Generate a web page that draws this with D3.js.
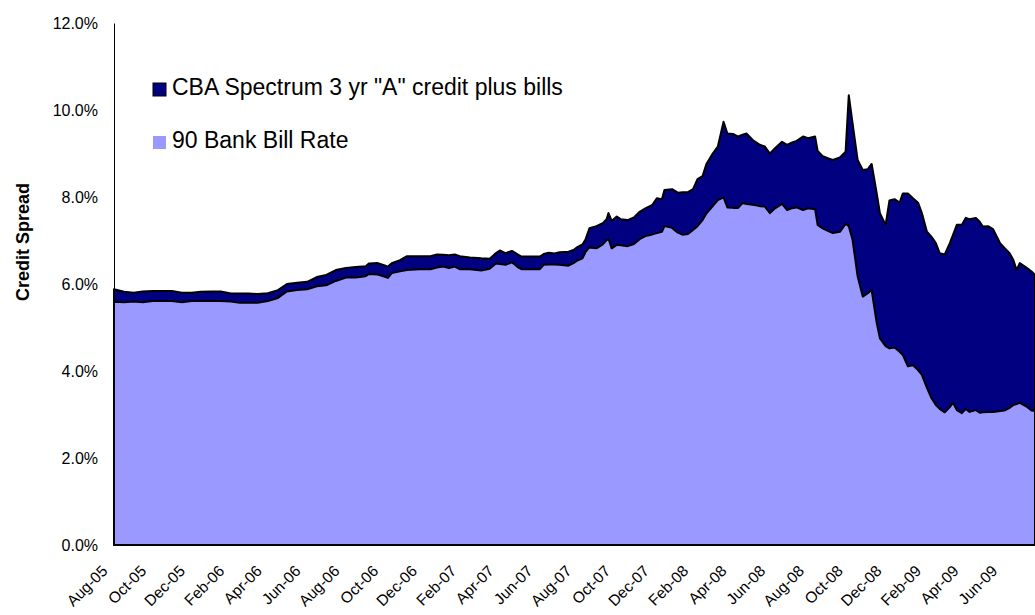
<!DOCTYPE html>
<html>
<head>
<meta charset="utf-8">
<script src="https://cdn.jsdelivr.net/npm/d3@7"></script>
<style>
  body { margin: 0; background: #fff; }
  svg { display: block; font-family: "Liberation Sans", Arial, sans-serif; }
</style>
</head>
<body>
<svg width="1035" height="615"></svg>
<script>
const dates = [
  "2005-08-01","2005-08-17","2005-09-01","2005-09-15","2005-10-01","2005-10-15","2005-10-31","2005-11-16",
  "2005-12-01","2005-12-15","2006-01-01","2006-01-16","2006-02-01","2006-02-15","2006-03-01","2006-03-15",
  "2006-03-31","2006-04-16","2006-04-30","2006-05-16","2006-06-01","2006-06-16","2006-07-01","2006-07-16",
  "2006-08-01","2006-08-16","2006-09-01","2006-09-06","2006-09-20","2006-09-30","2006-10-06","2006-10-12",
  "2006-10-25","2006-11-05","2006-11-24","2006-12-12","2006-12-22","2007-01-01","2007-01-10","2007-01-19",
  "2007-01-27","2007-02-12","2007-03-02","2007-03-15","2007-03-25","2007-03-31","2007-04-09","2007-04-19",
  "2007-04-28","2007-05-04","2007-06-02","2007-06-08","2007-06-16","2007-06-25",
  "2007-07-03","2007-07-17","2007-07-25","2007-07-31","2007-08-08","2007-08-13","2007-08-19","2007-08-30",
  "2007-09-09","2007-09-15","2007-09-18","2007-09-23","2007-10-01","2007-10-07","2007-10-18","2007-10-28",
  "2007-11-06","2007-11-15","2007-11-26","2007-12-03","2007-12-11","2007-12-15","2007-12-27","2008-01-05",
  "2008-01-13","2008-01-21","2008-01-29","2008-02-05","2008-02-13","2008-02-19","2008-02-29","2008-03-08",
  "2008-03-17","2008-03-23",
  "2008-04-01","2008-04-09","2008-04-16","2008-04-22","2008-05-02","2008-05-13","2008-05-21","2008-05-29",
  "2008-06-06","2008-06-17","2008-06-25","2008-07-02","2008-07-10","2008-07-20","2008-07-28","2008-08-08",
  "2008-08-12","2008-08-20","2008-08-28","2008-09-05","2008-09-16","2008-09-25","2008-09-30","2008-10-06",
  "2008-10-14","2008-10-22","2008-10-30","2008-11-05","2008-11-13","2008-11-18","2008-11-27","2008-12-03",
  "2008-12-11","2008-12-19","2008-12-24","2009-01-01","2009-01-09","2009-01-17","2009-01-23","2009-01-31",
  "2009-02-07","2009-02-14","2009-02-20","2009-02-28","2009-03-08","2009-03-13","2009-03-19","2009-03-27",
  "2009-04-02","2009-04-08","2009-04-18","2009-04-24","2009-04-29","2009-05-07","2009-05-15","2009-05-21",
  "2009-05-26","2009-06-02","2009-06-10","2009-06-16","2009-06-21","2009-06-26","2009-07-07","2009-07-15",
  "2009-07-20"
]

const creditPlusBills = [
  5.88, 5.82, 5.80, 5.83, 5.84, 5.84, 5.84, 5.80,
  5.80, 5.82, 5.83, 5.83, 5.78, 5.78, 5.78, 5.77,
  5.79, 5.86, 6.00, 6.03, 6.05, 6.16, 6.21, 6.32,
  6.37, 6.39, 6.41, 6.47, 6.48, 6.43, 6.40, 6.48,
  6.55, 6.64, 6.64, 6.64, 6.68, 6.67, 6.66, 6.68,
  6.64, 6.61, 6.59, 6.58, 6.71, 6.77, 6.71, 6.76,
  6.68, 6.63, 6.63, 6.69, 6.72, 6.70,
  6.73, 6.74, 6.78, 6.85, 6.91, 7.03, 7.28, 7.33,
  7.40, 7.49, 7.63, 7.45, 7.55, 7.49, 7.47, 7.53,
  7.66, 7.74, 7.82, 7.97, 7.95, 8.16, 8.18, 8.10,
  8.11, 8.11, 8.18, 8.41, 8.48, 8.76, 9.00, 9.16,
  9.73, 9.46,
  9.45, 9.39, 9.43, 9.46, 9.31, 9.20, 9.16, 9.00,
  9.12, 9.27, 9.20, 9.25, 9.29, 9.39, 9.35, 9.39,
  9.06, 8.94, 8.89, 8.85, 8.91, 9.04, 10.34, 9.69,
  8.85, 8.62, 8.64, 8.76, 8.08, 7.63, 7.36, 7.92,
  7.95, 7.87, 8.08, 8.08, 7.97, 7.87, 7.63, 7.20,
  7.09, 6.94, 6.71, 6.68, 6.94, 7.13, 7.36, 7.36,
  7.52, 7.49, 7.52, 7.43, 7.32, 7.33, 7.26, 7.09,
  6.94, 6.83, 6.71, 6.55, 6.32, 6.48, 6.37, 6.28,
  6.21
]

const billRate = [
  5.59, 5.58, 5.60, 5.58, 5.61, 5.61, 5.61, 5.58,
  5.61, 5.61, 5.61, 5.61, 5.60, 5.57, 5.57, 5.57,
  5.61, 5.68, 5.83, 5.86, 5.88, 5.95, 5.97, 6.07,
  6.15, 6.15, 6.18, 6.23, 6.22, 6.17, 6.14, 6.25,
  6.29, 6.32, 6.34, 6.34, 6.38, 6.40, 6.37, 6.40,
  6.34, 6.34, 6.31, 6.35, 6.47, 6.46, 6.44, 6.50,
  6.39, 6.34, 6.34, 6.44, 6.45, 6.45,
  6.44, 6.42, 6.48, 6.54, 6.59, 6.74, 6.84, 6.82,
  6.91, 7.01, 7.04, 6.82, 6.90, 6.89, 6.87, 6.92,
  7.03, 7.10, 7.14, 7.17, 7.20, 7.33, 7.29, 7.18,
  7.13, 7.15, 7.24, 7.33, 7.47, 7.62, 7.79, 7.93,
  7.99, 7.76,
  7.75, 7.75, 7.86, 7.84, 7.82, 7.79, 7.78, 7.63,
  7.74, 7.84, 7.70, 7.74, 7.76, 7.70, 7.74, 7.72,
  7.36, 7.28, 7.22, 7.17, 7.20, 7.38, 7.33, 7.01,
  6.17, 5.71, 5.79, 5.86, 5.10, 4.75, 4.57, 4.52,
  4.54, 4.44, 4.37, 4.11, 4.13, 4.02, 3.91, 3.61,
  3.38, 3.22, 3.13, 3.05, 3.17, 3.27, 3.10, 3.03,
  3.13, 3.06, 3.10, 3.04, 3.05, 3.06, 3.06, 3.07,
  3.08, 3.09, 3.15, 3.22, 3.24, 3.27, 3.18, 3.09,
  3.08
]

const tickLabels = ["Aug-05","Oct-05","Dec-05","Feb-06","Apr-06","Jun-06","Aug-06","Oct-06","Dec-06",
  "Feb-07","Apr-07","Jun-07","Aug-07","Oct-07","Dec-07","Feb-08","Apr-08","Jun-08","Aug-08","Oct-08",
  "Dec-08","Feb-09","Apr-09","Jun-09"]
const yTicks = [0, 2, 4, 6, 8, 10, 12]
const seriesNames = ["CBA Spectrum 3 yr \"A\" credit plus bills", "90 Bank Bill Rate"]
const seriesColors = ["#000080", "#9999ff"]

function draw(){
    const svg = d3.select("svg")
    const parse = d3.utcParse("%Y-%m-%d")
    const rows = dates.map((d, i) => ({ date: parse(d), total: creditPlusBills[i], bills: billRate[i] }))

    const xScale = d3.scaleUtc()
        .domain([parse("2005-08-01"), parse("2009-07-20")])
        .range([114, 1035])
    const yScale = d3.scaleLinear().domain([0, 12]).range([545, 23])

    const totalArea = d3.area()
        .x(d => xScale(d.date))
        .y0(yScale(0))
        .y1(d => yScale(d.total))
    const billArea = d3.area()
        .x(d => xScale(d.date))
        .y0(yScale(0))
        .y1(d => yScale(d.bills))

    svg.append("path")
        .datum(rows)
        .attr("d", totalArea)
        .attr("fill", seriesColors[0])
        .attr("stroke", "#000")
        .attr("stroke-width", 2)
        .attr("stroke-linejoin", "round")

    svg.append("path")
        .datum(rows)
        .attr("d", billArea)
        .attr("fill", seriesColors[1])
        .attr("stroke", "#000")
        .attr("stroke-width", 2)
        .attr("stroke-linejoin", "round")

    // y axis
    const yAxis = d3.axisLeft(yScale)
        .tickValues(yTicks)
        .tickSize(0)
        .tickPadding(16)
        .tickFormat(d => d.toFixed(1) + "%")

    svg.append("g")
        .attr("id", "yAxisG")
        .attr("transform", "translate(114, 0)")
        .call(yAxis)

    // x axis, labels slanted
    const tickDates = tickLabels.map(d => d3.utcParse("%b-%y")(d))
    const xAxis = d3.axisBottom(xScale)
        .tickValues(tickDates)
        .tickSize(0)
        .tickFormat(d3.utcFormat("%b-%y"))

    svg.append("g")
        .attr("id", "xAxisG")
        .attr("transform", "translate(0, 545)")
        .call(xAxis)

    svg.selectAll("g.tick text")
        .attr("fill", "#000")
        .style("font-size", "16px")
        .style("font-family", "\"Liberation Sans\", Arial, sans-serif")

    d3.select("#xAxisG")
        .selectAll("text")
        .attr("text-anchor", "end")
        .attr("dy", null)
        .attr("y", 0)
        .attr("transform", "translate(-6, 27) rotate(-45)")
        .style("font-size", "15.5px")

    svg.selectAll("path.domain")
        .attr("stroke", "#000")
        .attr("stroke-width", 1)

    // axis title
    svg.append("text")
        .attr("transform", "translate(29, 242) rotate(-90)")
        .attr("text-anchor", "middle")
        .style("font-size", "18px")
        .style("font-weight", "bold")
        .text("Credit Spread")

    // legend
    const legend = svg.append("g")
        .selectAll("g")
        .data(seriesNames)
        .enter()
        .append("g")
        .attr("transform", (d, i) => `translate(153, ${83 + i * 53})`)

    legend.append("rect")
        .attr("width", 13)
        .attr("height", 13)
        .attr("fill", (d, i) => seriesColors[i])
        .attr("stroke", (d, i) => i === 0 ? "#000" : "none")
        .attr("stroke-width", 1)

    legend.append("text")
        .attr("x", 19)
        .attr("y", 12)
        .style("font-size", "23px")
        .text(d => d)
}

draw()
</script>
</body>
</html>
